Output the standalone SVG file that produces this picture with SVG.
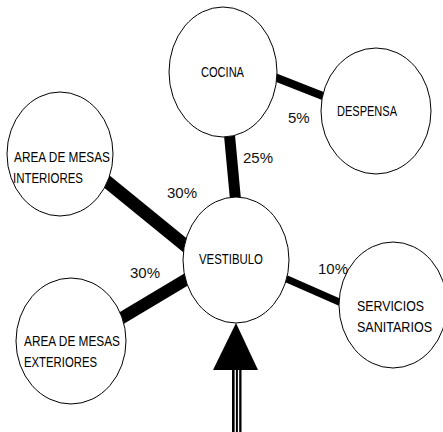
<svg xmlns="http://www.w3.org/2000/svg" width="443" height="432" viewBox="0 0 443 432">
<style>
.node ellipse{fill:#fff;stroke:#000;stroke-width:1}
.lbl{font-family:"Liberation Sans",Arial,sans-serif;font-size:14px;fill:#000;lengthAdjust:spacingAndGlyphs}
.pct{font-family:"Liberation Sans",Arial,sans-serif;font-size:15px;fill:#111}
.con line{stroke:#000;stroke-linecap:butt}
</style>
<rect width="443" height="432" fill="#fff"/>
<g id="connectors" class="con">
<line x1="229" y1="130" x2="236" y2="205" stroke-width="11"/>
<line x1="272" y1="76" x2="328" y2="98" stroke-width="8"/>
<line x1="100" y1="176" x2="192" y2="251" stroke-width="13"/>
<line x1="115" y1="322" x2="192" y2="276" stroke-width="12"/>
<line x1="280" y1="276" x2="346" y2="305" stroke-width="7"/>
<g id="entry-arrow">
<polygon points="236,323 213,370 258,370" fill="#000"/>
<rect x="232" y="369" width="9.5" height="63" fill="#000"/>
<rect x="234.6" y="370" width="1.3" height="62" fill="#fff"/>
<rect x="237.9" y="370" width="1.3" height="62" fill="#fff"/>
</g>
</g>
<g id="cocina" class="node">
<ellipse cx="223" cy="72" rx="54" ry="65"/>
<text class="lbl" x="201" y="77" textLength="43" lengthAdjust="spacingAndGlyphs">COCINA</text>
</g>
<g id="despensa" class="node">
<ellipse cx="376" cy="111" rx="55" ry="63"/>
<text class="lbl" x="337" y="115.5" textLength="60" lengthAdjust="spacingAndGlyphs">DESPENSA</text>
</g>
<g id="area-interiores" class="node">
<ellipse cx="60" cy="154" rx="53" ry="62"/>
<text class="lbl" x="14" y="162" textLength="96" lengthAdjust="spacingAndGlyphs">AREA DE MESAS</text>
<text class="lbl" x="13" y="182.5" textLength="70" lengthAdjust="spacingAndGlyphs">INTERIORES</text>
</g>
<g id="vestibulo" class="node">
<ellipse cx="236" cy="260" rx="53" ry="63"/>
<text class="lbl" x="199" y="263.5" textLength="64" lengthAdjust="spacingAndGlyphs">VESTIBULO</text>
</g>
<g id="area-exteriores" class="node">
<ellipse cx="71" cy="341" rx="55" ry="63"/>
<text class="lbl" x="24" y="345.5" textLength="96" lengthAdjust="spacingAndGlyphs">AREA DE MESAS</text>
<text class="lbl" x="24" y="366.5" textLength="73" lengthAdjust="spacingAndGlyphs">EXTERIORES</text>
</g>
<g id="servicios" class="node">
<ellipse cx="393" cy="305" rx="54" ry="63"/>
<text class="lbl" x="357" y="310.5" textLength="67" lengthAdjust="spacingAndGlyphs">SERVICIOS</text>
<text class="lbl" x="357" y="331.5" textLength="75" lengthAdjust="spacingAndGlyphs">SANITARIOS</text>
</g>
<g id="labels">
<text class="pct" x="288" y="122.5">5%</text>
<text class="pct" x="243" y="162.5">25%</text>
<text class="pct" x="167" y="197.5">30%</text>
<text class="pct" x="130" y="277.5">30%</text>
<text class="pct" x="318" y="274">10%</text>
</g>
</svg>
